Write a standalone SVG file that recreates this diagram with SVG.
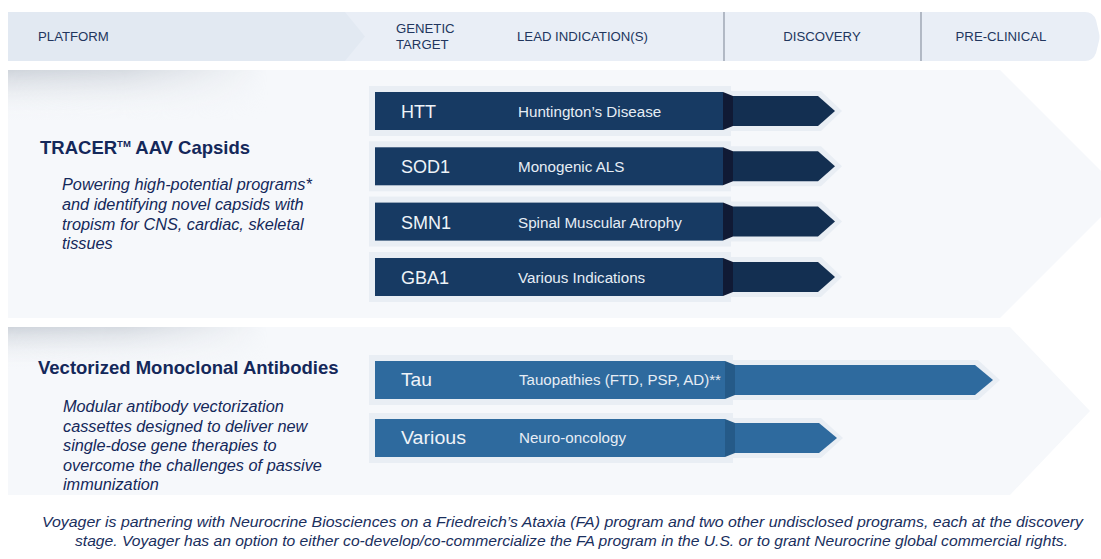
<svg xmlns="http://www.w3.org/2000/svg" width="1101" height="559" viewBox="0 0 1101 559">
<defs>
<linearGradient id="vfade" x1="0" y1="0" x2="0" y2="1">
<stop offset="0" stop-color="#cfd4db"/>
<stop offset="1" stop-color="#f6f8fb" stop-opacity="0"/>
</linearGradient>
<linearGradient id="hfade" x1="0" y1="0" x2="1" y2="0">
<stop offset="0" stop-color="#fff"/>
<stop offset="0.45" stop-color="#fff" stop-opacity="0.8"/>
<stop offset="1" stop-color="#fff" stop-opacity="0"/>
</linearGradient>
<mask id="m1" maskUnits="userSpaceOnUse" x="8" y="60" width="260" height="80">
<rect x="8" y="60" width="260" height="80" fill="url(#hfade)"/>
</mask>
<mask id="m2" maskUnits="userSpaceOnUse" x="8" y="320" width="260" height="70">
<rect x="8" y="320" width="260" height="70" fill="url(#hfade)"/>
</mask>
<style>
.hdr{font-family:"Liberation Sans",Arial,sans-serif;font-size:13.2px;fill:#22365e}
.title{font-family:"Liberation Sans",Arial,sans-serif;font-size:18.5px;font-weight:bold;fill:#14285a}
.desc{font-family:"Liberation Sans",Arial,sans-serif;font-size:16.3px;font-style:italic;fill:#14285a}
.gene{font-family:"Liberation Sans",Arial,sans-serif;font-size:18px;fill:#eef3f8}
.ind{font-family:"Liberation Sans",Arial,sans-serif;font-size:15.2px;fill:#e6edf5}
.foot{font-family:"Liberation Sans",Arial,sans-serif;font-size:14.3px;font-style:italic;fill:#1a2f5e}
.glow{fill:#e9eef4}
.b1{fill:#173a63}
.f1{fill:#101a35}
.a1{fill:#132f51}
.b2{fill:#2e6a9e}
.f2{fill:#255a88}
.a2{fill:#2e6a9e}
.div{stroke:#8d95a4;stroke-width:1.2}
</style>
</defs>
<rect width="1101" height="559" fill="#ffffff"/>

<g id="header">
<path d="M8,12 H1085 Q1093,12 1096,20 L1099,33 Q1100,37 1099,41 L1096,53 Q1093,61 1085,61 H8 Z" fill="#e9eef6"/>
<path d="M8,12 H345 L365,36.5 L345,61 H8 Z" fill="#e2e9f2"/>
<line class="div" x1="724" y1="12" x2="724" y2="61"/>
<line class="div" x1="921" y1="12" x2="921" y2="61"/>
<text class="hdr" x="38" y="41">PLATFORM</text>
<text class="hdr" x="396" y="33">GENETIC</text>
<text class="hdr" x="396" y="49">TARGET</text>
<text class="hdr" x="517" y="41">LEAD INDICATION(S)</text>
<text class="hdr" x="822" y="41" text-anchor="middle">DISCOVERY</text>
<text class="hdr" x="1001" y="41" text-anchor="middle">PRE-CLINICAL</text>
</g>

<g id="panel-tracer">
<path d="M8,70 H1000 L1124,194 L1000,318 H8 Z" fill="#f6f8fb"/>
<rect x="8" y="70" width="260" height="50" fill="url(#vfade)" mask="url(#m1)"/>
<text class="title" x="40" y="154">TRACER<tspan font-size="9.5" dy="-7">TM</tspan><tspan dy="7"> AAV Capsids</tspan></text>
<text class="desc" x="62" y="190">Powering high-potential programs*</text>
<text class="desc" x="62" y="210">and identifying novel capsids with</text>
<text class="desc" x="62" y="230">tropism for CNS, cardiac, skeletal</text>
<text class="desc" x="62" y="249">tissues</text>
</g>

<g id="panel-vectorized">
<path d="M8,327 H1010 L1090,411 L1010,495 H8 Z" fill="#f6f8fb"/>
<rect x="8" y="327" width="260" height="42" fill="url(#vfade)" mask="url(#m2)"/>
<text class="title" x="38" y="374">Vectorized Monoclonal Antibodies</text>
<text class="desc" x="63" y="412">Modular antibody vectorization</text>
<text class="desc" x="63" y="432">cassettes designed to deliver new</text>
<text class="desc" x="63" y="451">single-dose gene therapies to</text>
<text class="desc" x="63" y="471">overcome the challenges of passive</text>
<text class="desc" x="63" y="490">immunization</text>
</g>

<g id="connectors">
<g id="bar-htt" transform="translate(0,0)">
<rect class="glow" x="369" y="86" width="362" height="50"/>
<polygon class="glow" points="728,91 821,91 842,111 821,131 728,131"/>
<rect class="b1" x="375" y="92" width="348" height="38"/>
<polygon class="f1" points="723,92 733,96 733,126 723,130"/>
<polygon class="a1" points="733,96 818,96 835,111 818,126 733,126"/>
<text class="gene" x="401" y="118">HTT</text>
<text class="ind" x="518" y="117">Huntington’s Disease</text>
</g>
<g id="bar-sod1" transform="translate(0,55.3)">
<rect class="glow" x="369" y="86" width="362" height="50"/>
<polygon class="glow" points="728,91 821,91 842,111 821,131 728,131"/>
<rect class="b1" x="375" y="92" width="348" height="38"/>
<polygon class="f1" points="723,92 733,96 733,126 723,130"/>
<polygon class="a1" points="733,96 818,96 835,111 818,126 733,126"/>
<text class="gene" x="401" y="118">SOD1</text>
<text class="ind" x="518" y="117">Monogenic ALS</text>
</g>
<g id="bar-smn1" transform="translate(0,110.6)">
<rect class="glow" x="369" y="86" width="362" height="50"/>
<polygon class="glow" points="728,91 821,91 842,111 821,131 728,131"/>
<rect class="b1" x="375" y="92" width="348" height="38"/>
<polygon class="f1" points="723,92 733,96 733,126 723,130"/>
<polygon class="a1" points="733,96 818,96 835,111 818,126 733,126"/>
<text class="gene" x="401" y="118">SMN1</text>
<text class="ind" x="518" y="117">Spinal Muscular Atrophy</text>
</g>
<g id="bar-gba1" transform="translate(0,166)">
<rect class="glow" x="369" y="86" width="362" height="50"/>
<polygon class="glow" points="728,91 821,91 842,111 821,131 728,131"/>
<rect class="b1" x="375" y="92" width="348" height="38"/>
<polygon class="f1" points="723,92 733,96 733,126 723,130"/>
<polygon class="a1" points="733,96 818,96 835,111 818,126 733,126"/>
<text class="gene" x="401" y="118">GBA1</text>
<text class="ind" x="518" y="117">Various Indications</text>
</g>
<g id="bar-tau">
<rect class="glow" x="369" y="355" width="364" height="50"/>
<polygon class="glow" points="730,360 978,360 1000,380 978,400 730,400"/>
<rect class="b2" x="375" y="361" width="350" height="38"/>
<polygon class="f2" points="725,361 735,365 735,395 725,399"/>
<polygon class="a2" points="735,365 975,365 993,380 975,395 735,395"/>
<text class="gene" x="401" y="386" textLength="31" lengthAdjust="spacingAndGlyphs">Tau</text>
<text class="ind" x="519" y="385" textLength="202" lengthAdjust="spacingAndGlyphs">Tauopathies (FTD, PSP, AD)**</text>
</g>
<g id="bar-various">
<rect class="glow" x="369" y="413" width="364" height="50"/>
<polygon class="glow" points="730,418 821,418 843,438 821,458 730,458"/>
<rect class="b2" x="375" y="419" width="350" height="38"/>
<polygon class="f2" points="725,419 735,423 735,453 725,457"/>
<polygon class="a2" points="735,423 819,423 837,438 819,453 735,453"/>
<text class="gene" x="401" y="444" textLength="65" lengthAdjust="spacingAndGlyphs">Various</text>
<text class="ind" x="519" y="443" textLength="107" lengthAdjust="spacingAndGlyphs">Neuro-oncology</text>
</g>
</g>

<g id="footer">
<text class="foot" x="42" y="527" textLength="1041" lengthAdjust="spacingAndGlyphs">Voyager is partnering with Neurocrine Biosciences on a Friedreich’s Ataxia (FA) program and two other undisclosed programs, each at the discovery</text>
<text class="foot" x="75" y="546" textLength="993" lengthAdjust="spacingAndGlyphs">stage. Voyager has an option to either co-develop/co-commercialize the FA program in the U.S. or to grant Neurocrine global commercial rights.</text>
</g>
</svg>
